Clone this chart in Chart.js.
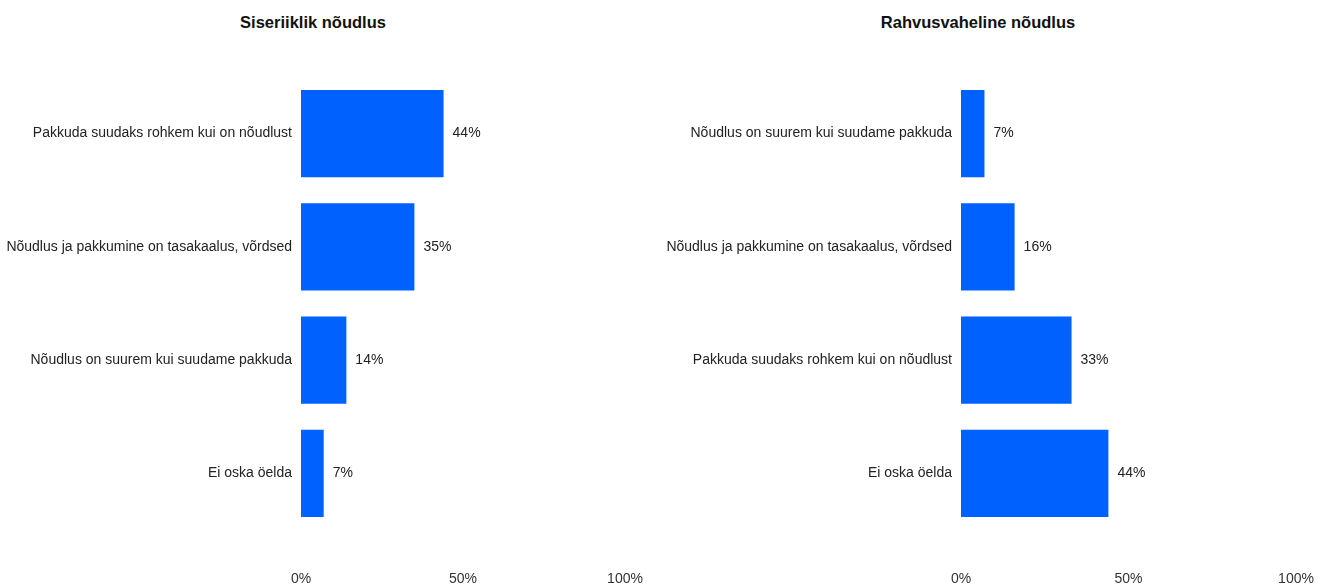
<!DOCTYPE html>
<html>
<head>
<meta charset="utf-8">
<script src="https://cdn.jsdelivr.net/npm/chart.js@4.4.0/dist/chart.umd.min.js"></script>
<style>
  body { margin:0; background:#fff; }
  .wrap { position:absolute; top:0; width:663px; height:585px; }
  .ttl { position:absolute; top:13px; font:bold 16.5px "Liberation Sans", Arial, sans-serif; color:#111; white-space:nowrap; transform:translateX(-50%); }
</style>
</head>
<body>
<div class="ttl" style="left:313px">Siseriiklik nõudlus</div>
<div class="ttl" style="left:978px">Rahvusvaheline nõudlus</div>
<div class="wrap" style="left:0"><canvas id="domesticChart" width="662" height="585"></canvas></div>
<div class="wrap" style="left:662px"><canvas id="intlChart" width="663" height="585"></canvas></div>
<script>
// data
var domesticLabels = ['Pakkuda suudaks rohkem kui on nõudlust', 'Nõudlus ja pakkumine on tasakaalus, võrdsed', 'Nõudlus on suurem kui suudame pakkuda', 'Ei oska öelda'];
var domesticValues = [44, 35, 14, 7];
var intlLabels = ['Nõudlus on suurem kui suudame pakkuda', 'Nõudlus ja pakkumine on tasakaalus, võrdsed', 'Pakkuda suudaks rohkem kui on nõudlust', 'Ei oska öelda'];
var intlValues = [7, 16, 33, 44];
var xTicks = [0, 50, 100];

var font = "'Liberation Sans', Arial, sans-serif";

//value labels at bar ends
var valueLabels = {
  id: 'valueLabels',
  afterDatasetsDraw: function (chart) {
    var ctx = chart.ctx;
    var meta = chart.getDatasetMeta(0);
    ctx.save();
    ctx.font = '14px ' + font;
    ctx.fillStyle = '#222';
    ctx.textBaseline = 'middle';
    meta.data.forEach(function (bar, i) {
      ctx.fillText(chart.data.datasets[0].data[i] + '%', bar.x + 9, bar.y);
    });
    ctx.restore();
  }
};

function makeChart(id, labels, values, yWidth, padRight) {
  return new Chart(document.getElementById(id), {
    type: 'bar',
    data: {
      labels: labels,
      datasets: [{
        data: values,
        backgroundColor: '#0061ff',
        borderWidth: 0,
        barPercentage: 0.77,
        categoryPercentage: 1
      }]
    },
    plugins: [valueLabels],
    options: {
      indexAxis: 'y',
      responsive: false,
      animation: false,
      layout: { padding: { top: 77, right: padRight, bottom: 0, left: 0 } },
      plugins: { legend: { display: false }, tooltip: { enabled: false } },
      scales: {
        x: {
          min: 0, max: 100,
          afterBuildTicks: function (s) { s.ticks = xTicks.map(function (v) { return { value: v }; }); },
          afterFit: function (s) { s.height = 55; },
          grid: { display: false, tickLength: 41 },
          border: { display: false },
          ticks: {
            padding: 0,
            color: '#333',
            font: { family: font, size: 14 },
            maxRotation: 0,
            callback: function (v) { return v + '%'; }
          }
        },
        y: {
          afterFit: function (s) { s.width = yWidth; },
          grid: { display: false },
          border: { display: false },
          ticks: {
            padding: 1,
            color: '#222',
            font: { family: font, size: 14 }
          }
        }
      }
    }
  });
}

makeChart('domesticChart', domesticLabels, domesticValues, 301, 37);
makeChart('intlChart', intlLabels, intlValues, 299, 29);
</script>
</body>
</html>
